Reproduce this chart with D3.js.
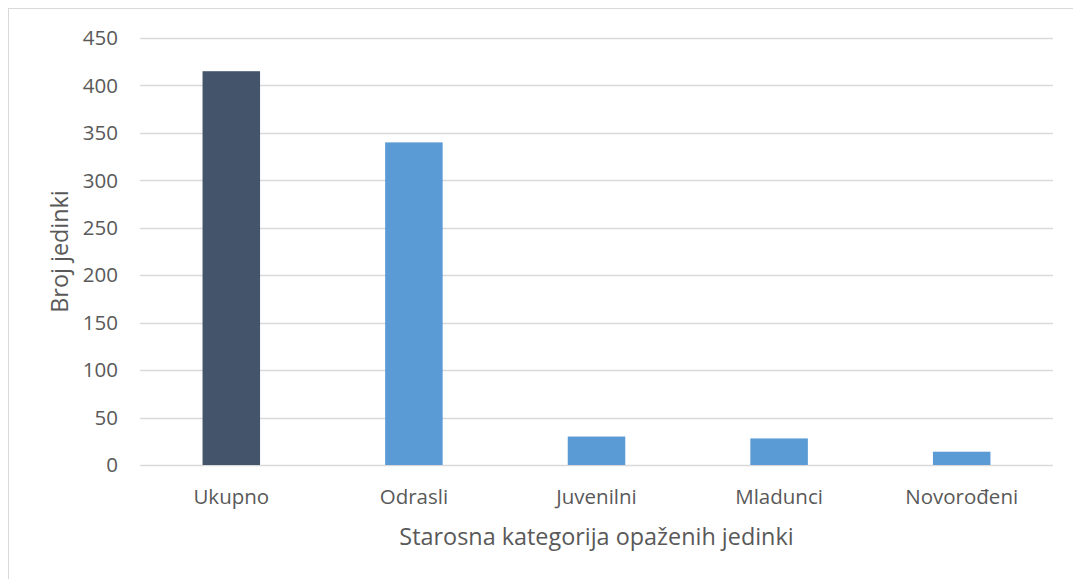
<!DOCTYPE html>
<html>
<head>
<meta charset="utf-8">
<script src="https://cdn.jsdelivr.net/npm/d3@7"></script>
<style>
  body { margin: 0; background: #fff; }
  text { font-family: "Open Sans", sans-serif; fill: #595959; }
</style>
</head>
<body>
<svg id="chart" width="1073" height="579"></svg>
<script>
// data
const categories = ['Ukupno', 'Odrasli', 'Juvenilni', 'Mladunci', 'Novorođeni'];
const values = [415, 340, 30, 28, 14];
const barColors = ['#44546A', '#5B9BD5', '#5B9BD5', '#5B9BD5', '#5B9BD5'];
const yTicks = [0, 50, 100, 150, 200, 250, 300, 350, 400, 450];

const margin = { top: 38, right: 20, bottom: 114, left: 140 };
const width = 1073 - margin.left - margin.right;
const height = 579 - margin.top - margin.bottom;

const svg = d3.select('#chart');

// outer frame of the chart area
svg.append('rect')
  .attr('x', 8.5).attr('y', 8.5)
  .attr('width', 1100).attr('height', 700)
  .attr('fill', 'none')
  .attr('stroke', '#D9D9D9');

const g = svg.append('g')
  .attr('transform', `translate(${margin.left},${margin.top})`);

const x = d3.scaleBand()
  .domain(categories)
  .range([0, width])
  .paddingInner(0.685)
  .paddingOuter(0.3425);

const y = d3.scaleLinear()
  .domain([0, 450])
  .range([height, 0]);

// gridlines
g.append('g')
  .selectAll('line')
  .data(yTicks)
  .join('line')
    .attr('x1', 0)
    .attr('x2', width)
    .attr('y1', d => Math.round(y(d)) + 0.5)
    .attr('y2', d => Math.round(y(d)) + 0.5)
    .attr('stroke', '#D9D9D9')
    .attr('stroke-width', 1.5);

// y tick labels
g.append('g')
  .selectAll('text')
  .data(yTicks)
  .join('text')
    .attr('x', -22)
    .attr('y', d => y(d))
    .attr('dy', '0.35em')
    .attr('text-anchor', 'end')
    .style('font-size', '20.5px')
    .text(d => d);

// bars
g.append('g')
  .selectAll('rect')
  .data(values)
  .join('rect')
    .attr('x', (d, i) => x(categories[i]))
    .attr('y', d => y(d))
    .attr('width', x.bandwidth())
    .attr('height', d => y(0) - y(d))
    .attr('fill', (d, i) => barColors[i]);

// x tick labels
g.append('g')
  .selectAll('text')
  .data(categories)
  .join('text')
    .attr('x', d => x(d) + x.bandwidth() / 2)
    .attr('y', height + 32)
    .attr('dy', '0.35em')
    .attr('text-anchor', 'middle')
    .style('font-size', '20.5px')
    .text(d => d);

// axis titles
svg.append('text')
  .attr('x', margin.left + width / 2)
  .attr('y', 537)
  .attr('dy', '0.35em')
  .attr('text-anchor', 'middle')
  .style('font-size', '23.4px')
  .text('Starosna kategorija opaženih jedinki');

svg.append('text')
  .attr('transform', `translate(60,${margin.top + height / 2}) rotate(-90)`)
  .attr('dy', '0.35em')
  .attr('text-anchor', 'middle')
  .style('font-size', '23.4px')
  .text('Broj jedinki');
</script>
</body>
</html>
